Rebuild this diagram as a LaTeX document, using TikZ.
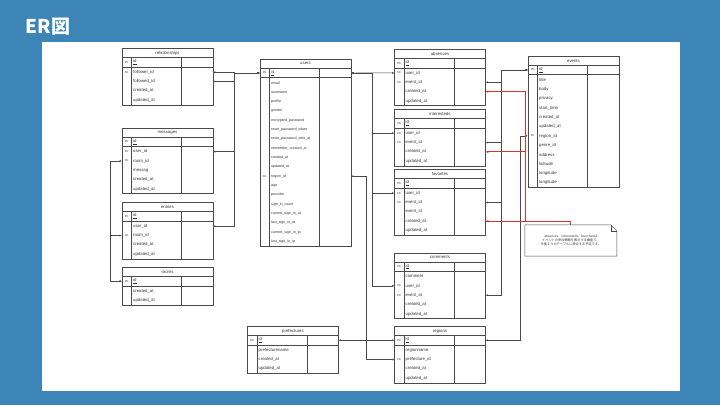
\documentclass[tikz,border=0pt]{standalone}
\usepackage{fontspec}
\setmainfont{Liberation Sans}
\newfontfamily\cjk{Noto Sans CJK JP}
\usetikzlibrary{arrows.meta,calc}
\definecolor{bgblue}{HTML}{3D85B6}
\definecolor{tline}{HTML}{4A4A4A}
\definecolor{ttext}{HTML}{333333}
\definecolor{redline}{HTML}{DC3232}
\newcommand\fsz[1]{\fontsize{#1}{#1}\selectfont}
\tikzset{
  tblline/.style={draw=tline, line width=0.45pt},
  rowbox/.style={minimum width=91pt, minimum height=9.33pt, inner sep=0pt, outer sep=0pt},
  keytxt/.style={font=\fsz{2.8}, text=ttext, inner sep=0pt},
  fieldtxt/.style={font=\fsz{4.3}, text=ttext, anchor=west, inner sep=0pt},
  titletxt/.style={font=\fsz{4.3}, text=ttext, inner sep=0pt},
  conn/.style={draw=tline, line width=0.5pt, >={Latex[length=2.4pt,width=2pt]}, <->},
  redc/.style={draw=redline, line width=0.8pt, >={Latex[length=2.8pt,width=2.4pt]}},
}
\newcommand\ertable[6]{%
  \pgfmathsetmacro\erH{19+#5*9.33}%
  \draw[tblline] (#2,#3) rectangle ++(91,\erH);
  \draw[tblline] (#2,#3+9) -- ++(91,0);
  \draw[tblline, line width=0.8pt] (#2,#3+18.6) -- ++(91,0);
  \draw[tblline] (#2+9.3,#3+9) -- (#2+9.3,#3+\erH);
  \draw[tblline] (#2+59.3,#3+9) -- (#2+59.3,#3+\erH);
  \node[titletxt] (#1-t) at (#2+45.5,#3+4.5) {#4};
  \foreach \k/\f [count=\i from 0] in {#6}{%
    \ifnum\i=0\relax \pgfmathsetmacro\ry{#3+13.75}\else \pgfmathsetmacro\ry{#3+19+(\i-0.5)*9.33}\fi
    \node[rowbox] (#1-\i) at (#2+45.5,\ry) {};
    \node[keytxt] at (#2+4.65,\ry) {\k};
    \node[fieldtxt] at (#2+11,\ry) {\ifnum\i=0 \underline{\f}\else\f\fi};
  }%
}
\begin{document}
\begin{tikzpicture}[x=1pt,y=-1pt]
\fill[bgblue] (0,0) rectangle (720,405);
\useasboundingbox (0,0) rectangle (720,405);
\fill[white] (41.5,41.5) rectangle (680,391);
\node[anchor=base west, text=white, font=\cjk\bfseries\fsz{19}, inner sep=0pt] (ttl) at (25.5,33) {ER図};

\ertable{rel}{122}{48.5}{relationships}{4}{PK/id, FK/follower\_id, /followed\_id, /created\_at, /updated\_at}
\ertable{msg}{122}{128}{messages}{5}{PK/id, FK/user\_id, FK/room\_id, /messag, /created\_at, /updated\_at}
\ertable{ent}{122}{202.5}{entries}{4}{PK/id, /user\_id, FK/room\_id, /created\_at, /updated\_at}
\ertable{rms}{122}{267.5}{rooms}{2}{PK/id, /created\_at, /updated\_at}
\begin{scope}[fieldtxt/.append style={font=\fsz{3.6}}]
\ertable{usr}{260}{59.25}{users}{18}{PK/id, /email, /username, /profile, /gender, /encrypted\_password, /reset\_password\_token, /reset\_password\_sent\_at, /remember\_created\_at, /created\_at, /updated\_at, FK/region\_id, /age, /provider, /sign\_in\_count, /current\_sign\_in\_at, /last\_sign\_in\_at, /current\_sign\_in\_ip, /last\_sign\_in\_ip}
\end{scope}
\ertable{abs}{394.5}{49.3}{absences}{4}{PK/id, FK/user\_id, FK/event\_id, /created\_at, /updated\_at}
\ertable{int}{394.5}{109.5}{interesteds}{4}{PK/id, FK/user\_id, FK/event\_id, /created\_at, /updated\_at}
\ertable{fav}{394.5}{169.5}{favorites}{5}{PK/id, FK/user\_id, FK/event\_id, /event\_id, /created\_at, /updated\_at}
\ertable{com}{394.5}{252.9}{comments}{5}{PK/id, /comment, FK/user\_id, FK/event\_id, /created\_at, /updated\_at}
\ertable{reg}{394.5}{326.5}{regions}{4}{PK/id, /regionname, FK/prefecture\_id, /created\_at, /updated\_at}
\ertable{evt}{528}{56.25}{events}{12}{PK/id, /title, /body, /privacy, /start\_time, /created\_at, /updated\_at, FK/region\_id, /genre\_id, /address, /latitude, /longitude, /longitude}
\ertable{pref}{247.5}{326.5}{prefectures}{3}{PK/id, /prefecturename, /created\_at, /updated\_at}

% note
\node[minimum width=91.7pt, minimum height=31pt, inner sep=0pt, align=center, font=\cjk\fsz{3.2}, text=ttext] (note) at (570.85,240.5)
  {absences、interesteds、favoritesは\\[0.9pt]イベントの参加情報を表示する機能で、\\[0.9pt]今後１つのテーブルに統合する予定です。};
\draw[tblline] (note.north west) -- ($(note.north east)+(-6,0)$) -- ($(note.north east)+(0,6)$) -- (note.south east) -- (note.south west) -- cycle;
\draw[tblline] ($(note.north east)+(-6,0)$) -- ($(note.north east)+(-6,6)$) -- ($(note.north east)+(0,6)$);

% users.id left group
\draw[conn] (rel-1.east) -- ++(21.5,0) |- (usr-0.west);
\draw[conn] (rel-2.east) -- ++(21.5,0) |- (usr-0.west);
\draw[conn] (msg-1.east) -- ++(21.5,0) |- (usr-0.west);
\draw[conn] (ent-1.east) -- ++(21.5,0) |- (usr-0.west);
% rooms
\draw[conn] (msg-2.west) -- ++(-12,0) |- (rms-0.west);
\draw[conn] (ent-2.west) -- ++(-12,0) |- (rms-0.west);
% users.id right group
\draw[conn] (usr-0.east) -- (abs-1.west);
\draw[conn] (int-1.west) -- ++(-21.8,0) |- (usr-0.east);
\draw[conn] (fav-1.west) -- ++(-21.8,0) |- (usr-0.east);
\draw[conn] (com-2.west) -- ++(-21.8,0) |- (usr-0.east);
% events.id
\draw[conn] (abs-2.east) -- ++(15.5,0) |- (evt-0.west);
\draw[conn] (int-2.east) -- ++(15.5,0) |- (evt-0.west);
\draw[conn] (fav-2.east) -- ++(15.5,0) |- (evt-0.west);
\draw[conn] (com-3.east) -- ++(15.5,0) |- (evt-0.west);
% events.region_id
\draw[conn] (evt-7.west) -- ++(-8,0) |- (reg-0.east);
% users.region_id / prefectures
\draw[conn] (usr-11.east) -- ++(15,0) |- (reg-2.west);
\draw[conn] (pref-0.east) -- (reg-0.west);
% red note links
\draw[redc,<-] (abs-3.east) -- ++(39.5,0) |- (fav-4.east);
\draw[redc,<-] (int-3.east) -- ++(39.5,0) |- (fav-4.east);
\draw[redc,->] (note.north) |- (fav-4.east);
\end{tikzpicture}
\end{document}
